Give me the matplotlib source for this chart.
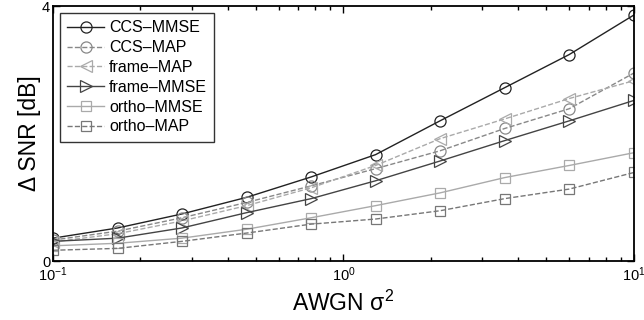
import matplotlib.pyplot as plt
from matplotlib.ticker import LogLocator, NullFormatter, FixedLocator

plt.rcParams['font.family'] = ['Liberation Sans', 'DejaVu Sans']
plt.rcParams['mathtext.fontset'] = 'custom'
plt.rcParams['mathtext.rm'] = 'Liberation Sans'
plt.rcParams['mathtext.it'] = 'Liberation Sans'

# Data
sigma2 = [0.1, 0.167, 0.278, 0.464, 0.774, 1.29, 2.15, 3.59, 5.99, 10]
ccs_mmse = [0.36, 0.52, 0.74, 1.0, 1.32, 1.67, 2.2, 2.72, 3.24, 3.86]
ccs_map = [0.33, 0.47, 0.68, 0.92, 1.18, 1.45, 1.73, 2.08, 2.39, 2.95]
frame_map = [0.3, 0.43, 0.63, 0.87, 1.15, 1.5, 1.92, 2.23, 2.55, 2.83]
frame_mmse = [0.31, 0.36, 0.52, 0.76, 0.98, 1.26, 1.57, 1.89, 2.2, 2.52]
ortho_mmse = [0.24, 0.28, 0.36, 0.5, 0.68, 0.87, 1.07, 1.31, 1.5, 1.7]
ortho_map = [0.17, 0.2, 0.31, 0.44, 0.58, 0.66, 0.79, 0.98, 1.13, 1.39]

fig = plt.figure(figsize=(6.44, 3.2), dpi=100)
ax = fig.add_axes([0.0823, 0.184, 0.902, 0.797])

mk = dict(markerfacecolor='none', markersize=8, linewidth=1.0, markeredgewidth=0.9)
ax.plot(sigma2, ccs_mmse, '-', marker='o', color='#222222', label='CCS\u2013MMSE', **mk)
ax.plot(sigma2, ccs_map, '--', marker='o', color='#888888', label='CCS\u2013MAP', **mk)
ax.plot(sigma2, frame_map, '--', marker='<', color='#aaaaaa', label='frame\u2013MAP', **mk)
ax.plot(sigma2, frame_mmse, '-', marker='>', color='#444444', label='frame\u2013MMSE', **mk)
ax.plot(sigma2, ortho_mmse, '-', marker='s', color='#aaaaaa', label='ortho\u2013MMSE',
        markerfacecolor='none', markersize=7, linewidth=1.0, markeredgewidth=0.9)
ax.plot(sigma2, ortho_map, '--', marker='s', color='#777777', label='ortho\u2013MAP',
        markerfacecolor='none', markersize=7, linewidth=1.0, markeredgewidth=0.9)

ax.set_xscale('log')
ax.set_xlim(0.1, 10)
ax.set_ylim(0, 4)
ax.yaxis.set_major_locator(FixedLocator([0, 4]))
ax.xaxis.set_minor_locator(LogLocator(base=10, subs=range(2, 10)))
ax.xaxis.set_minor_formatter(NullFormatter())
ax.tick_params(which='both', direction='in', top=True, right=True, labelsize=10.5, width=1.0)
ax.tick_params(which='major', length=5)
ax.tick_params(which='minor', length=3)
ax.tick_params(axis='y', pad=2)
ax.tick_params(axis='x', pad=3)
for s in ax.spines.values():
    s.set_linewidth(1.3)

ax.set_xlabel('AWGN $\\sigma^2$', fontsize=16.5, labelpad=5)
ax.set_ylabel('\u0394 SNR [dB]', fontsize=16.5, labelpad=1)

leg = ax.legend(loc='upper left', fontsize=11.5, frameon=True, fancybox=False,
                edgecolor='black', handlelength=2.3, labelspacing=0.3,
                borderaxespad=0.45, handletextpad=0.3, borderpad=0.45)
leg.get_frame().set_linewidth(1.0)

fig.savefig('out.png', dpi=100)
